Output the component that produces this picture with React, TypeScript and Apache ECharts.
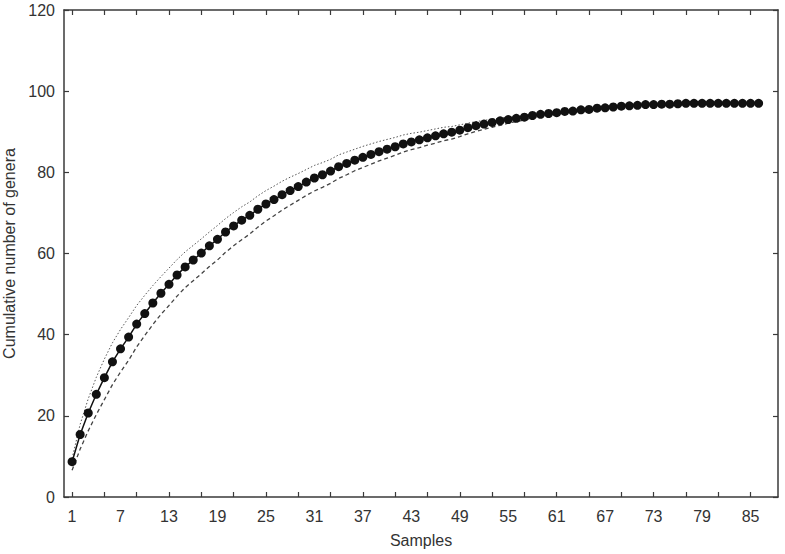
import React, { useEffect, useRef } from "react";
import * as echarts from "echarts";

const samples: number[] = Array.from({ length: 86 }, (_, i) => i + 1);

const observed: number[] = [
  8.7, 15.4, 20.7, 25.3, 29.4, 33.3, 36.5, 39.4, 42.6, 45.2,
  47.8, 50.2, 52.4, 54.7, 56.7, 58.4, 60.1, 61.9, 63.5, 65.3,
  66.8, 68.2, 69.4, 70.9, 72.2, 73.3, 74.5, 75.5, 76.5, 77.6,
  78.6, 79.4, 80.3, 81.4, 82.2, 83.0, 83.7, 84.4, 85.1, 85.7,
  86.3, 87.0, 87.5, 88.0, 88.5, 89.0, 89.5, 89.9, 90.4, 91.0,
  91.5, 91.9, 92.3, 92.7, 93.0, 93.3, 93.6, 94.0, 94.3, 94.5,
  94.7, 95.0, 95.1, 95.4, 95.5, 95.8, 95.9, 96.1, 96.3, 96.4,
  96.5, 96.7, 96.7, 96.8, 96.8, 96.9, 97.0, 97.0, 97.0, 97.0,
  97.0, 97.0, 97.0, 97.0, 97.0, 97.0,
];

const upper: number[] = [
  9.5, 17.9, 24.2, 29.5, 34.0, 38.0, 41.3, 44.2, 47.2, 49.7,
  52.1, 54.3, 56.4, 58.5, 60.4, 62.0, 63.6, 65.3, 66.9, 68.6,
  70.1, 71.5, 72.7, 74.2, 75.5, 76.6, 77.8, 78.8, 79.7, 80.7,
  81.7, 82.4, 83.2, 84.3, 85.0, 85.7, 86.4, 87.0, 87.6, 88.1,
  88.6, 89.2, 89.6, 89.9, 90.3, 90.7, 91.1, 91.3, 91.7, 92.1,
  92.5, 92.8, 93.1, 93.4, 93.6, 93.8, 94.1, 94.4, 94.7, 94.8,
  95.0, 95.2, 95.3, 95.6, 95.7, 95.9, 96.0, 96.2, 96.4, 96.4,
  96.5, 96.7, 96.7, 96.8, 96.8, 96.9, 97.0, 97.0, 97.0, 97.0,
  97.0, 97.0, 97.0, 97.0, 97.0, 97.0,
];

const lower: number[] = [
  6.6, 11.8, 16.3, 20.3, 24.0, 27.7, 30.8, 33.7, 37.0, 39.8,
  42.5, 45.0, 47.2, 49.5, 51.6, 53.3, 55.0, 56.8, 58.4, 60.3,
  61.9, 63.4, 64.8, 66.5, 68.0, 69.3, 70.7, 71.9, 73.1, 74.3,
  75.4, 76.3, 77.3, 78.5, 79.4, 80.4, 81.2, 82.0, 82.8, 83.5,
  84.2, 85.0, 85.6, 86.1, 86.7, 87.2, 87.8, 88.2, 88.8, 89.5,
  90.1, 90.6, 91.1, 91.6, 92.1, 92.5, 92.9, 93.4, 93.8, 94.1,
  94.4, 94.7, 94.9, 95.2, 95.4, 95.7, 95.8, 96.0, 96.3, 96.4,
  96.5, 96.7, 96.7, 96.8, 96.8, 96.9, 97.0, 97.0, 97.0, 97.0,
  97.0, 97.0, 97.0, 97.0, 97.0, 97.0,
];

const xTickValues: number[] = [1, 5, 9, 13, 17, 21, 25, 29, 33, 37, 41, 45, 49, 53, 57, 61, 65, 69, 73, 77, 81, 85];
const xLabelValues: number[] = [1, 7, 13, 19, 25, 31, 37, 43, 49, 55, 61, 67, 73, 79, 85];

const xTitle = "Samples";
const yTitle = "Cumulative number of genera";

const FONT = "'Liberation Sans', Arial, sans-serif";
const AXIS_COLOR = "#3a3a3a";
const TEXT_COLOR = "#333";

export default function App() {
  const ref = useRef<HTMLDivElement>(null);

  useEffect(() => {
    document.body.style.margin = "0";
    if (!ref.current) return;
    const chart = echarts.init(ref.current, undefined, { renderer: "svg" });

    const pairs = (ys: number[]) => samples.map((s, i) => [s, ys[i]]);

    const frameLine = { show: true, onZero: false, lineStyle: { color: AXIS_COLOR, width: 1.5 } };

    chart.setOption({
      animation: false,
      backgroundColor: "#ffffff",
      textStyle: { fontFamily: FONT },
      grid: { left: 64, right: 7, top: 10, bottom: 57, containLabel: false, outerBoundsMode: "none" },
      xAxis: [
        {
          type: "value",
          position: "bottom",
          min: 0,
          max: 88.4,
          axisLine: frameLine,
          axisTick: { show: true, inside: true, length: 5, customValues: xTickValues, lineStyle: { color: AXIS_COLOR, width: 1.2 } },
          axisLabel: { show: true, customValues: xLabelValues, fontSize: 16, color: TEXT_COLOR, margin: 11, fontFamily: FONT },
          splitLine: { show: false },
          name: xTitle,
          nameLocation: "middle",
          nameGap: 35,
          nameTextStyle: { fontSize: 16, color: TEXT_COLOR, fontFamily: FONT },
        },
        {
          type: "value",
          position: "top",
          min: 0,
          max: 88.4,
          axisLine: frameLine,
          axisTick: { show: true, inside: true, length: 5, customValues: xTickValues, lineStyle: { color: AXIS_COLOR, width: 1.2 } },
          axisLabel: { show: false },
          splitLine: { show: false },
        },
      ],
      yAxis: [
        {
          type: "value",
          position: "left",
          min: 0,
          max: 120,
          interval: 20,
          axisLine: frameLine,
          axisTick: { show: true, inside: true, length: 5, lineStyle: { color: AXIS_COLOR, width: 1.2 } },
          axisLabel: { fontSize: 16, color: TEXT_COLOR, margin: 9, fontFamily: FONT },
          splitLine: { show: false },
          name: yTitle,
          nameLocation: "middle",
          nameGap: 46,
          nameTextStyle: { fontSize: 16, color: TEXT_COLOR, fontFamily: FONT },
        },
        {
          type: "value",
          position: "right",
          min: 0,
          max: 120,
          interval: 20,
          axisLine: frameLine,
          axisTick: { show: true, inside: true, length: 5, lineStyle: { color: AXIS_COLOR, width: 1.2 } },
          axisLabel: { show: false },
          splitLine: { show: false },
        },
      ],
      series: [
        {
          name: "upper",
          type: "line",
          data: pairs(upper),
          showSymbol: false,
          symbol: "none",
          lineStyle: { color: "#555", width: 1, type: [1.5, 2] },
          z: 2,
        },
        {
          name: "lower",
          type: "line",
          data: pairs(lower),
          showSymbol: false,
          symbol: "none",
          lineStyle: { color: "#444", width: 1.3, type: [4, 3] },
          z: 2,
        },
        {
          name: "observed",
          type: "line",
          data: pairs(observed),
          symbol: "circle",
          symbolSize: 9,
          itemStyle: { color: "#111" },
          lineStyle: { color: "#111", width: 1.5 },
          z: 3,
        },
      ],
    });

    return () => chart.dispose();
  }, []);

  return <div ref={ref} style={{ width: 785, height: 554, position: "absolute", left: 0, top: 0 }} />;
}
